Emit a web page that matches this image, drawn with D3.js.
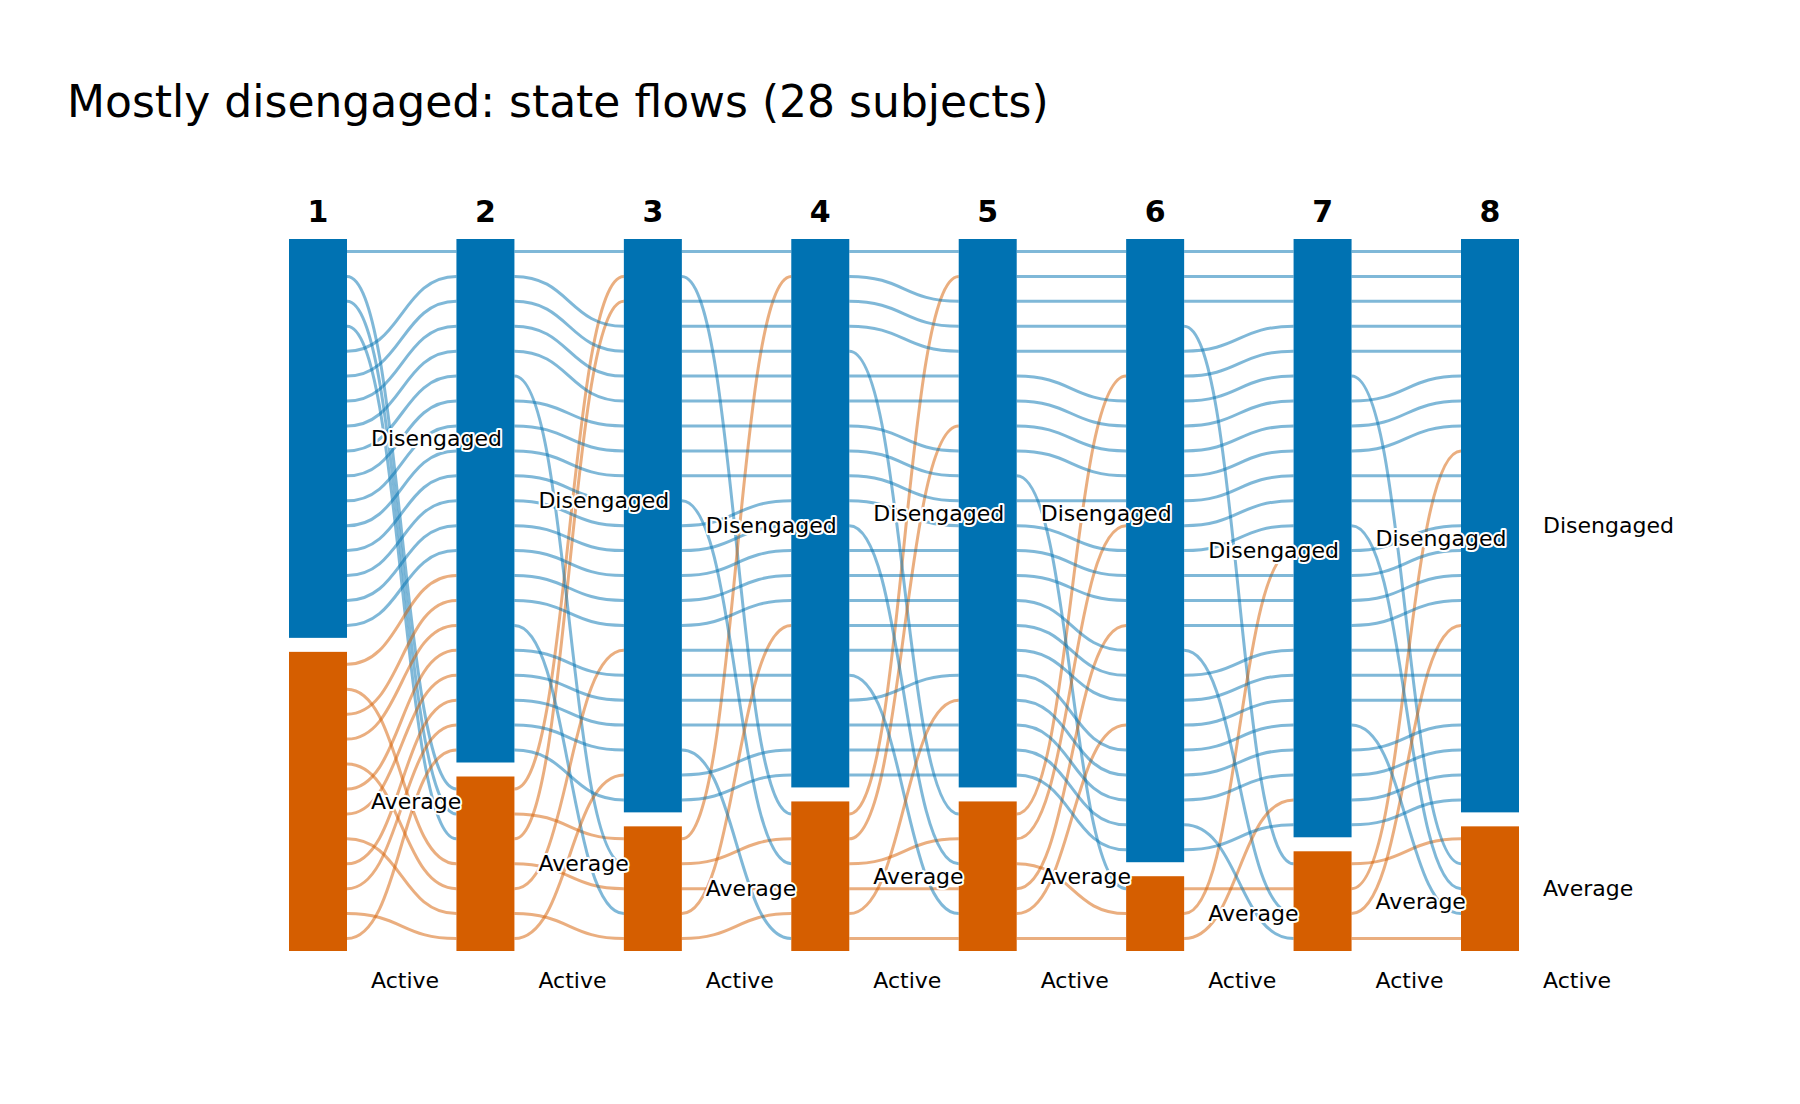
<!DOCTYPE html>
<html>
<head>
<meta charset="utf-8">
<style>
  body { margin: 0; background: #fff; }
  text { font-family: "DejaVu Sans", sans-serif; }
</style>
</head>
<body>
<div id="chart"></div>
<script src="https://cdn.jsdelivr.net/npm/d3@7"></script>
<script>
var steps = ['1', '2', '3', '4', '5', '6', '7', '8'];
var states = ['Disengaged', 'Average', 'Active'];
var stateColors = ['#0072B2', '#D55E00', '#009E73'];
// one sequence per subject, D = Disengaged, A = Average
var sequences = [
  'DDDDDDDD', 'DADADDDD', 'DAADDDDD', 'DADDDDAA', 'DDDDDDDD', 'DDDDADDD', 'DDDDDDDA',
  'DDDDDDDD', 'DDAADDDD', 'DDDDDDDD', 'DDDDDAAD', 'DDDDDDDD', 'DDDAADDD', 'DDDDDDDA',
  'DDDDAADD', 'DDDDDDDD', 'ADDDDDDD', 'AAAAADDD', 'ADDDDDAD', 'ADADDDDD', 'AADDDDDD',
  'ADDDADDD', 'ADDDDDDA', 'AAAADDDD', 'ADDDDDDD', 'ADDAAADD', 'AADDDDAA', 'ADDDDDDD'
];
var codes = {D: 0, A: 1, C: 2};

var W = 1800, H = 1104;
var barTop = 239, barBottom = 951, gap = 14, barW = 58;
var n = sequences.length;
var slot = (barBottom - barTop - gap) / n;

var svg = d3.select('#chart').append('svg').attr('width', W).attr('height', H);

var x = d3.scalePoint().domain(steps).range([318, 1490]);

svg.append('text').attr('x', 67).attr('y', 117)
  .style('font-size', '44px').text('Mostly disengaged: state flows (' + n + ' subjects)');

// node layout per step: each subject gets a slot, ordered by state then by id
var pos = steps.map(function(s, t) {
  var y0 = barTop, p = {}, nodes = [];
  states.forEach(function(st, k) {
    var ids = d3.range(n).filter(function(i) { return codes[sequences[i][t]] === k; });
    var start = y0;
    ids.forEach(function(i, j) { p[i] = start + (j + 0.5) * slot; });
    var end = start + ids.length * slot;
    nodes.push({state: k, y0: start, y1: end, count: ids.length});
    y0 = ids.length ? end + gap : end;
  });
  return {p: p, nodes: nodes};
});

// flow lines
var g = svg.append('g').attr('fill', 'none').attr('stroke-width', 3).attr('stroke-opacity', 0.5);
for (var t = 0; t < steps.length - 1; t++) {
  var x0 = x(steps[t]) + barW / 2, x1 = x(steps[t + 1]) - barW / 2, xm = (x0 + x1) / 2;
  d3.range(n).forEach(function(i) {
    var ya = pos[t].p[i], yb = pos[t + 1].p[i];
    var path = d3.path();
    path.moveTo(x0, ya);
    path.bezierCurveTo(xm, ya, xm, yb, x1, yb);
    g.append('path').attr('d', path.toString())
      .attr('stroke', stateColors[codes[sequences[i][t]]]);
  });
}

// bars and labels
steps.forEach(function(s, t) {
  var cx = x(s);
  svg.append('text').attr('x', cx).attr('y', 222).attr('text-anchor', 'middle')
    .style('font-size', '30px').style('font-weight', 'bold').text(s);
  pos[t].nodes.forEach(function(nd) {
    if (nd.count > 0) {
      svg.append('rect').attr('x', cx - barW / 2).attr('y', nd.y0)
        .attr('width', barW).attr('height', nd.y1 - nd.y0).attr('fill', stateColors[nd.state]);
    }
  });
});
steps.forEach(function(s, t) {
  var lx = x(s) + barW / 2 + 24;
  pos[t].nodes.forEach(function(nd) {
    var ly = nd.count > 0 ? (nd.y0 + nd.y1) / 2 : nd.y0 + 15;
    svg.append('text').attr('x', lx).attr('y', ly).attr('dy', '0.35em')
      .style('font-size', '22px').attr('stroke', '#fff').attr('stroke-width', 4)
      .attr('stroke-linejoin', 'round').attr('paint-order', 'stroke')
      .text(states[nd.state]);
  });
});
</script>
</body>
</html>
